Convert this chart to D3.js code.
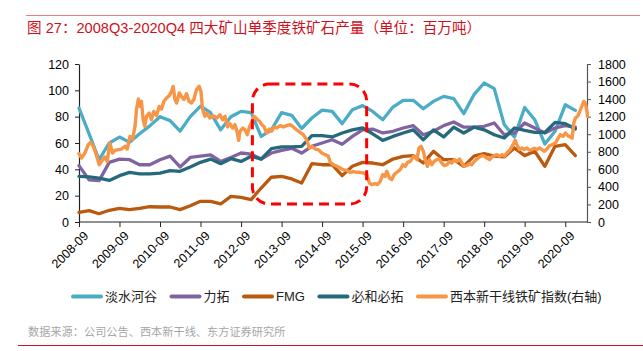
<!DOCTYPE html>
<html><head><meta charset="utf-8">
<script src="https://cdn.jsdelivr.net/npm/d3@7"></script>
<style>
html,body{margin:0;padding:0;background:#fff;}
svg{display:block;font-family:"Liberation Sans","Noto Sans CJK SC",sans-serif;}
</style></head>
<body><svg id="c" width="643" height="351"></svg>
<script>
const quarters = ["2008-09","2008-12","2009-03","2009-06","2009-09","2009-12","2010-03","2010-06","2010-09","2010-12",
"2011-03","2011-06","2011-09","2011-12","2012-03","2012-06","2012-09","2012-12","2013-03","2013-06",
"2013-09","2013-12","2014-03","2014-06","2014-09","2014-12","2015-03","2015-06","2015-09","2015-12",
"2016-03","2016-06","2016-09","2016-12","2017-03","2017-06","2017-09","2017-12","2018-03","2018-06",
"2018-09","2018-12","2019-03","2019-06","2019-09","2019-12","2020-03","2020-06","2020-09","2020-12"];
const vale = [86.6,67,47.3,60,64.5,60.5,67,73,80,77,69,80,88,83,70,80,84,83,65,70,83,81,71,79,
85,84,74.7,85.3,88.4,84,77.7,87.3,92.4,92.4,86,91.6,95.4,93.7,82.3,96.7,105.6,101.3,74,64.6,87,77.7,59.2,68.9,89,84.8];
const rio = [42.8,32,31.4,45.3,47.8,47.3,43.5,43.5,47.3,50,41.8,49,50,51,46,49,52.4,51.6,47.8,52.4,54.4,56,52.4,57.5,
60,62.5,59,65,70,70.6,67.6,68.9,71.4,73.2,66.3,68.9,73.2,76,72,72,72.7,75.2,66.3,67.6,75.2,71.4,67.6,71.4,73.2,72];
const fmg = [7.3,8.6,6.3,8.9,10.4,9.4,10.4,11.6,11.4,11.4,9.4,12.4,15.7,15.7,13.7,19.5,18.7,17,25.8,34,34.7,32.7,29.6,44.3,
43.5,43.5,35.2,42.3,45.3,44.8,43.5,47.8,49.9,50.4,44.8,53.7,47.3,47.3,42.3,50,51.9,50,49.4,56.2,50.4,53.7,42.3,57.5,58.7,50.4];
const bhp = [34.7,34.2,33.4,31.6,35.2,37.7,36.5,36.5,37.2,39,38.5,41.8,45.3,47.8,44.3,48.1,46,50,47.8,55.7,57,57,57.5,65.6,
65.6,64.6,67.6,70,71.4,67,62,65,67.6,70,62.5,70,64.6,72,67.6,72,70,66.3,63.8,71.4,69.6,68,68,75.7,74.7,70.6];

const idxDates = ["2008-09-01","2008-09-24","2008-10-24","2008-11-23","2008-12-14","2009-01-08","2009-02-08","2009-03-02","2009-03-22","2009-04-22",
"2009-05-13","2009-06-06","2009-06-30","2009-07-21","2009-08-20","2009-09-20","2009-10-20","2009-11-10","2009-12-04","2009-12-28",
"2010-01-19","2010-02-03","2010-02-18","2010-03-03","2010-03-18","2010-04-02","2010-04-17","2010-05-02","2010-05-26","2010-06-16",
"2010-07-07","2010-08-01","2010-08-25","2010-09-15","2010-10-06","2010-10-30","2010-11-24","2010-12-14","2010-12-29","2011-01-14",
"2011-01-29","2011-02-22","2011-03-13","2011-04-04","2011-04-28","2011-05-21","2011-06-12","2011-07-03","2011-07-27","2011-08-20",
"2011-09-05","2011-09-20","2011-10-11","2011-10-26","2011-11-25","2011-12-25","2012-01-25","2012-02-24","2012-03-18","2012-04-09",
"2012-05-02","2012-05-23","2012-06-17","2012-07-08","2012-07-28","2012-08-10","2012-08-22","2012-09-16","2012-10-06","2012-10-27",
"2012-11-15","2012-12-06","2012-12-26","2013-01-20","2013-02-14","2013-03-05","2013-03-26","2013-04-19","2013-05-13","2013-06-04",
"2013-06-24","2013-07-18","2013-08-18","2013-09-17","2013-10-17","2013-11-17","2013-12-16","2014-01-16","2014-02-15","2014-03-15",
"2014-04-15","2014-05-09","2014-05-30","2014-06-30","2014-07-29","2014-08-29","2014-09-28","2014-10-28","2014-11-13","2014-12-13",
"2015-01-12","2015-02-11","2015-03-11","2015-04-11","2015-05-10","2015-06-10","2015-07-10","2015-08-09","2015-09-09","2015-10-09",
"2015-11-02","2015-11-23","2015-12-23","2016-01-13","2016-02-07","2016-03-01","2016-03-22","2016-04-06","2016-05-01","2016-05-21",
"2016-06-12","2016-07-05","2016-08-05","2016-08-29","2016-09-20","2016-10-10","2016-11-04","2016-12-04","2017-01-03","2017-01-21",
"2017-02-09","2017-03-02","2017-03-17","2017-04-08","2017-04-26","2017-05-17","2017-06-07","2017-07-01","2017-07-25","2017-08-15",
"2017-09-06","2017-10-01","2017-10-24","2017-11-14","2017-12-05","2017-12-29","2018-01-23","2018-02-13","2018-03-04","2018-03-28",
"2018-04-22","2018-05-12","2018-06-03","2018-06-27","2018-07-21","2018-08-11","2018-09-02","2018-09-26","2018-10-20","2018-11-10",
"2018-12-01","2018-12-25","2019-01-19","2019-02-09","2019-03-01","2019-03-25","2019-04-24","2019-05-24","2019-06-08","2019-06-23",
"2019-07-17","2019-08-07","2019-08-28","2019-09-22","2019-10-15","2019-11-06","2019-11-27","2019-12-21","2020-01-14","2020-02-05",
"2020-02-26","2020-03-20","2020-04-13","2020-05-04","2020-06-04","2020-06-24","2020-07-18","2020-08-12","2020-09-02","2020-09-23",
"2020-10-17","2020-11-02","2020-11-17","2020-12-01","2020-12-22","2021-01-16","2021-02-03","2021-02-15","2021-03-01","2021-03-16","2021-03-20"];
const idxValues = [778,729,786,880,908,863,750,653,690,741,
690,900,786,816,825,831,863,831,975,945,
1090,1299,1401,1317,1374,1166,1090,1205,1242,1166,
1260,1212,1317,1287,1374,1413,1440,1488,1545,1395,
1356,1470,1431,1395,1462,1374,1356,1395,1508,1545,
1488,1280,1205,1242,1185,1212,1185,1222,1166,1205,
1083,1121,1071,1109,1022,930,1034,1071,1050,995,
1083,1136,1205,1173,1148,1109,1090,1014,1059,1034,
1083,1071,1098,1083,1098,1109,1083,1050,1022,995,
938,843,863,831,825,786,767,750,680,653,
634,615,596,588,566,573,566,566,558,540,
444,426,437,426,463,540,520,578,501,482,
540,566,596,653,634,680,690,750,710,843,
863,806,717,634,710,653,690,710,717,672,
642,653,690,672,710,690,717,672,634,642,
665,653,690,717,741,756,750,729,710,741,
756,767,750,767,750,786,825,893,930,880,
825,843,825,843,816,825,840,825,843,825,
806,831,870,880,900,945,995,975,1014,984,
969,955,1128,1185,1205,1280,1336,1374,1356,1260,1205];

const xTickLabels = ["2008-09","2009-09","2010-09","2011-09","2012-09","2013-09","2014-09","2015-09","2016-09","2017-09","2018-09","2019-09","2020-09"];
const leftTicks = [0,20,40,60,80,100,120];
const rightTicks = [0,200,400,600,800,1000,1200,1400,1600,1800];
const seriesNames = ["淡水河谷","力拓","FMG","必和必拓","西本新干线铁矿指数(右轴)"];
const seriesColors = ["#4BACC6","#8064A2","#BA5A0E","#25697A","#F79646"];
const titleText = "图 27：2008Q3-2020Q4 四大矿山单季度铁矿石产量（单位：百万吨）";
const sourceText = "数据来源：公司公告、西本新干线、东方证券研究所";

const svg = d3.select("#c");
const L = 79, R = 587, T = 64, B = 222;
const parseM = d3.utcParse("%Y-%m");
const parseD = d3.utcParse("%Y-%m-%d");
const x = d3.scaleUtc().domain([parseM("2008-09"), parseD("2021-03-16")]).range([L, R]);
const yL = d3.scaleLinear().domain([0,120]).range([B, T]);
const yR = d3.scaleLinear().domain([0,1800]).range([B, T]);

// header / footer
svg.append("line").attr("x1",26).attr("x2",640).attr("y1",15.5).attr("y2",15.5).attr("stroke","#E87C7C").attr("stroke-width",1);
svg.append("text").attr("x",27).attr("y",33).attr("fill","#D0101A").attr("font-size",14.6).text(titleText);
svg.append("text").attr("x",28).attr("y",335.5).attr("fill","#A6A6A6").attr("font-size",11.2).text(sourceText);
svg.append("line").attr("x1",18).attr("x2",643).attr("y1",345.5).attr("y2",345.5).attr("stroke","#C8141E").attr("stroke-width",1);

// axes
const axL = svg.append("g").attr("transform",`translate(${L},0)`)
  .call(d3.axisLeft(yL).tickValues(leftTicks).tickSize(4).tickPadding(6).tickSizeOuter(0));
const axR = svg.append("g").attr("transform",`translate(${R},0)`)
  .call(d3.axisRight(yR).tickValues(rightTicks).tickFormat(d3.format("d")).tickSize(4).tickPadding(7).tickSizeOuter(0));
const axB = svg.append("g").attr("transform",`translate(0,${B})`)
  .call(d3.axisBottom(x).tickValues(xTickLabels.map(parseM)).tickFormat(d3.utcFormat("%Y-%m")).tickSize(5).tickSizeOuter(0));
[axL,axR,axB].forEach(a=>{
  a.selectAll("text").attr("font-size",12.5).attr("fill","#000").attr("font-family",'"Liberation Sans",sans-serif');
  a.select(".domain").attr("stroke","#222").attr("stroke-width",1.2);
  a.selectAll(".tick line").attr("stroke","#222");
});
axR.select(".domain").attr("stroke","#555");
axR.selectAll(".tick line").attr("stroke","#555");
axB.select(".domain").attr("d",`M${L},0H${R}`);
axB.selectAll("text").attr("text-anchor","end").attr("dx",0).attr("dy",0)
  .attr("transform","translate(4,9) rotate(-45)");

// lines
const qDates = quarters.map(parseM);
const lineL = d3.line().x((d,i)=>x(qDates[i])).y(d=>yL(d)).curve(d3.curveLinear);
const qSeries = [vale, rio, fmg, bhp];
qSeries.forEach((s,k)=>{
  svg.append("path").attr("d",lineL(s)).attr("fill","none").attr("stroke",seriesColors[k])
    .attr("stroke-width",3.3).attr("stroke-linejoin","round").attr("stroke-linecap","round");
});
const idxPts = idxDates.map((d,i)=>[parseD(d), idxValues[i]]);
svg.append("path").attr("d", d3.line().x(d=>x(d[0])).y(d=>yR(d[1]))(idxPts))
  .attr("fill","none").attr("stroke",seriesColors[4]).attr("stroke-width",3.4)
  .attr("stroke-linejoin","round").attr("stroke-linecap","round");

// highlight box
const bx0 = x(parseD("2012-12-12")), bx1 = x(parseD("2015-10-08"));
svg.append("rect").attr("x",bx0).attr("y",yR(1572)).attr("width",bx1-bx0).attr("height",yR(205)-yR(1572))
  .attr("rx",17).attr("ry",17).attr("fill","none").attr("stroke","#FF0000").attr("stroke-width",3)
  .attr("stroke-dasharray","10,6");

// legend
let lx = 71; const ly = 296.5;
seriesNames.forEach((n,k)=>{
  const g = svg.append("g");
  g.append("line").attr("x1",lx+2).attr("x2",lx+30).attr("y1",ly).attr("y2",ly)
    .attr("stroke",seriesColors[k]).attr("stroke-width",4).attr("stroke-linecap","round");
  const t = g.append("text").attr("x",lx+34).attr("y",ly+4.6).attr("font-size",13).attr("fill","#222").text(n);
  lx = lx + 34 + t.node().getComputedTextLength() + 12.5;
});
</script></body></html>
